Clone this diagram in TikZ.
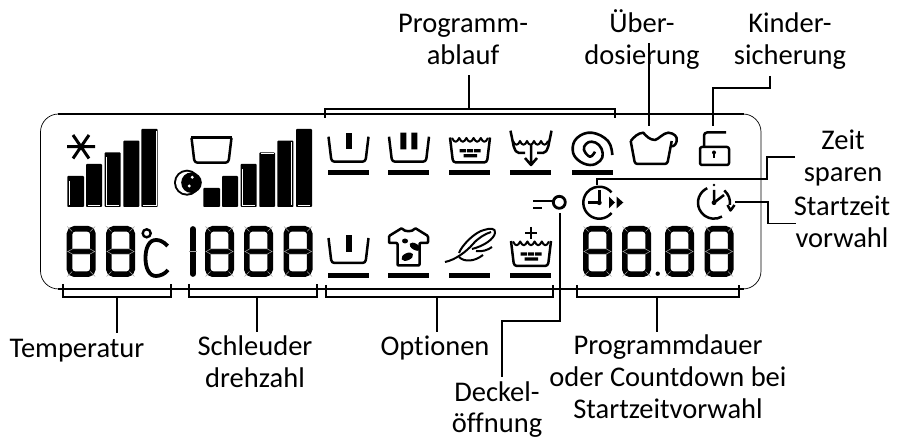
\documentclass[tikz,border=0pt]{standalone}
\usepackage{fontspec}
\setmainfont{Carlito}[Ligatures=NoCommon]
\tikzset{
	lcdeight/.pic={
		\draw[line width=5.6,rounded corners=5] (2.8,2.8) rectangle (26.2,48.2);
		\draw[sep] (0.5,0.5) -- (5.5,5.5) (28.5,0.5) -- (23.5,5.5) (0.5,50.5) -- (5.5,45.5) (28.5,50.5) -- (23.5,45.5);
		\filldraw[fill=black,draw=gray!70,line width=.5] (1,25.5) -- (6,22.8) -- (23,22.8) -- (28,25.5) -- (23,28.2) -- (6,28.2) -- cycle;
	},
	washtub/.pic={
		\draw[icon,rounded corners=3] (-20,0) -- (-17,25) -- (17,25) -- (20,0);
	},
	waves/.pic={
		\draw[icon,line width=2] (-18,0) .. controls (-15.5,5) and (-13.3,5) .. (-10.8,0) .. controls (-8.3,5) and (-6.1,5) .. (-3.6,0) .. controls (-1.1,5) and (1.1,5) .. (3.6,0) .. controls (6.1,5) and (8.3,5) .. (10.8,0) .. controls (13.3,5) and (15.5,5) .. (18,0);
	},
	dashes/.pic={
		\fill (-10.5,-1.6) rectangle (-4,1.6) (-3,-1.6) rectangle (3,1.6) (4,-1.6) rectangle (10.5,1.6) (-6.5,3.5) rectangle (7,6.7);
	},
	mark/.pic={
		\fill (0,0) rectangle (41,5);
	},
}
\begin{document}
\begin{tikzpicture}[x=1pt,y=-1pt]
\tikzstyle{lead}= [line width=1.9]
\tikzstyle{icon}= [line width=2.5,line join=round]
\tikzstyle{sep}= [draw=gray!70,line width=.6]
\tikzstyle{spot}= [white,line width=.5]
\tikzstyle{lbl}= [font=\fontsize{28.5}{32}\selectfont,align=center,anchor=base,inner sep=0pt]
\useasboundingbox (0,0) rectangle (900,443);

% panel
\draw[line width=.7,rounded corners=18] (40.5,114) rectangle (761,289);
\draw[line width=1.9] (58,114) -- (744,114) (58,289) -- (744,289);

% labels
\path
	(463,65) node[lbl] (ablauf) {Programm-\\ablauf}
	(642,65) node[lbl] (dosierung) {Über-\\dosierung}
	(790,65) node[lbl] (sicherung) {Kinder-\\sicherung}
	(843,182) node[lbl] (sparen) {Zeit\\sparen}
	(842,248) node[lbl] (vorwahl) {Startzeit\\vorwahl}
	(77,358) node[lbl] (temperatur) {Temperatur}
	(255,388) node[lbl] (drehzahl) {Schleuder\\drehzahl}
	(435,356) node[lbl] (optionen) {Optionen}
	(497,433) node[lbl] (deckel) {Deckel-\\öffnung}
	(668,419) node[lbl] (dauer) {Programmdauer\\oder Countdown bei\\Startzeitvorwahl}
;

% leaders
\coordinate (ablaufL) at (325,118);
\coordinate (ablaufR) at (615,118);
\coordinate (ablaufM) at (469,109);
\coordinate (ablaufT) at (469,75);
\coordinate (ueberT) at (648.7,43);
\coordinate (ueberB) at (648.7,126);
\coordinate (kinderT) at (770,76);
\coordinate (kinderB) at (712.7,126);
\coordinate (sparenR) at (795,157);
\coordinate (sparenB) at (597,185);
\coordinate (startL) at (735,202);
\coordinate (startR) at (796,223.5);
\coordinate (tempL) at (63,284);
\coordinate (tempR) at (171,284);
\coordinate (tempM) at (117,297);
\coordinate (tempB) at (117,333);
\coordinate (schlL) at (189,284);
\coordinate (schlR) at (317,284);
\coordinate (schlM) at (257,297);
\coordinate (schlB) at (257,332);
\coordinate (optL) at (326,285);
\coordinate (optR) at (553,285);
\coordinate (optM) at (437,297);
\coordinate (optB) at (437,332);
\coordinate (dauerL) at (577,285);
\coordinate (dauerR) at (739,285);
\coordinate (dauerM) at (657,297);
\coordinate (dauerB) at (657,332);
\coordinate (deckelT) at (560,213);
\coordinate (deckelB) at (501.7,377);
\draw[lead] (ablaufL) |- (ablaufM) -| (ablaufR);
\draw[lead] (ablaufM) -- (ablaufT);
\draw[lead] (ueberT) -- (ueberB);
\draw[lead] (kinderT) |- (712.7,88) -- (kinderB);
\draw[lead] (sparenR) -| (767,179) -| (sparenB);
\draw[lead] (startL) -| (768,223.5) -- (startR);
\draw[lead] (tempL) |- (tempM) -| (tempR);
\draw[lead] (tempM) -- (tempB);
\draw[lead] (schlL) |- (schlM) -| (schlR);
\draw[lead] (schlM) -- (schlB);
\draw[lead] (optL) |- (optM) -| (optR);
\draw[lead] (optM) -- (optB);
\draw[lead] (dauerL) |- (dauerM) -| (dauerR);
\draw[lead] (dauerM) -- (dauerB);
\draw[lead] (deckelT) |- (501.7,320.7) -- (deckelB);

% frost and bars
\draw[line width=3] (67,146.7) -- (95,146.7) (73,135) -- (89,158.5) (89,135) -- (73,158.5);
\fill[rounded corners=.8]
	(67.3,176) rectangle (84,207) (86,164) rectangle (102,207) (104.7,152.5) rectangle (120.7,207)
	(123.3,140.7) rectangle (139.3,207) (141.3,129) rectangle (157.7,207)
	(203.3,188) rectangle (220,207) (222,176) rectangle (238,207) (240.7,164) rectangle (256.7,207)
	(259.3,152.5) rectangle (275,207) (277.3,140.7) rectangle (293.3,207) (296,129) rectangle (312,207);
\draw[spot] (69.5,181) -- (69.5,205) (88,205) -- (100,205) (106.5,157) -- (106.5,205) -- (119,205)
	(155.8,131) -- (155.8,205) -- (143,205) (242.5,169) -- (242.5,205) -- (255,205)
	(261,153.5) -- (274,153.5) (291.5,142) -- (291.5,205) (298,205) -- (310,205);

% tub and moon
\path (211.5,137.7) pic {washtub};
\draw[icon] (191,137.7) -- (232,137.7);
\fill (187,182.7) circle (13);
\fill[white] (187,182.7) circle (11);
\fill (191.5,182.7) circle (10.3);
\fill[white] (192.3,177.3) circle (1.6) (189.3,186) circle (1.6);

% digits
\path
	(66.7,226) pic {lcdeight}
	(106,226) pic {lcdeight}
	(205,226) pic {lcdeight}
	(244,226) pic {lcdeight}
	(283.5,226) pic {lcdeight}
	(583,226) pic {lcdeight}
	(622,226) pic {lcdeight}
	(665,226) pic {lcdeight}
	(704.5,226) pic {lcdeight}
;
\draw[line width=5.7,line cap=round] (192.8,229) -- (192.8,274);
\draw[sep] (189,251) -- (196.5,251);
\draw[line width=2.4] (146.7,233.3) circle (4);
\draw[line width=3.8] (167.7,246) .. controls (163,241) and (159,240) .. (156,240) .. controls (149,240) and (145.5,248) .. (145.5,258) .. controls (145.5,268) and (149,276) .. (156,276) .. controls (160,276) and (165,274) .. (168,270);
\fill (657.7,273.7) circle (2.2);

% programme row
\path
	(348.5,136.7) pic {washtub}
	(409,136.7) pic {washtub}
	(470,137.5) pic {washtub}
	(470,138) pic {waves}
	(470,150.7) pic {dashes}
	(328,170) pic {mark}
	(388.3,170) pic {mark}
	(449.3,170) pic {mark}
	(510,170) pic {mark}
	(571.7,170) pic {mark}
;
\fill (345.5,132.7) rectangle (351.5,149.3);
\fill (400.3,132.7) rectangle (406.3,149.3) (411.3,132.7) rectangle (417.3,149.3);
\draw[icon,rounded corners=2] (510.5,130.7) -- (514,148) -- (517,153) -- (525,153) (551.5,130.7) -- (548,148) -- (545,153) -- (537,153);
\draw[icon,line width=2] (513,141) .. controls (515,146) and (518,146) .. (520,141) .. controls (522,146) and (525,146) .. (527,141) .. controls (529,146) and (532,146) .. (534,141) .. controls (536,146) and (539,146) .. (541,141) .. controls (543,146) and (546,146) .. (548,141);
\draw[icon] (531,145) -- (531,164) (525,158) -- (531,165) -- (537,158);
\draw[icon,line width=2.6] plot[smooth,tension=.7] coordinates {(612.3,155) (608,141) (591.7,132.7) (577,138) (572.7,150) (578,160) (590,165) (600,161) (602.7,153.3) (599,145) (591.7,141.7) (586,144) (584,150) (590,156.7) (595,151.7)};

% overdosing and lock
\draw[icon] (630.7,141) .. controls (634,137) and (638,133) .. (643.3,132.7) .. controls (646,136) and (650,140) .. (655,140) .. controls (659,139) and (663,133) .. (668.3,132.7) .. controls (674,133) and (678,137) .. (676.7,141) .. controls (676,145) and (673,147) .. (671,146);
\draw[icon,rounded corners=2.5] (630.7,141) -- (635,164) -- (667.3,164) -- (671.7,141);
\draw[icon,rounded corners=2] (700,147) rectangle (729,165);
\draw[icon,rounded corners=3] (704,147) -- (704,132.5) -- (726,132.5);
\fill (714,152.5) circle (2);
\draw[line width=1.5] (714,153) -- (714,158);

% clocks
\draw[icon] (599.3,202.7) ++(40:16) arc[start angle=40,end angle=320,radius=16];
\draw[icon] (588,202.7) -- (599.3,202.7) -- (599.3,190);
\fill (599.3,202.7) circle (2.4);
\fill (609,196.7) -- (615,202.5) -- (609,208.3) -- cycle (616.7,196.7) -- (623.3,202.5) -- (616.7,208.3) -- cycle;
\draw[icon] (714,202.7) ++(245:16) arc[start angle=245,end angle=60,radius=16];
\draw[icon] (714,202.7) ++(310:16) arc[start angle=310,end angle=368,radius=16];
\draw[icon] (727.5,205) -- (730.5,210.5) -- (734.5,205);
\draw[icon] (724,195) -- (714,202.7) -- (714,190);
\fill (714,202.7) circle (2.4) (714,185) circle (1.3);

% key
\draw[line width=2.8] (559.3,202.3) circle (6);
\draw[line width=2.6] (533,201) -- (553,201);
\draw[line width=2.4] (533,208) -- (541.7,208);

% option row
\path
	(348.5,238) pic {washtub}
	(531,241) pic {washtub}
	(531,241.5) pic {waves}
	(531,254) pic {dashes}
	(328,272.7) pic {mark}
	(388.3,272.7) pic {mark}
	(449.3,272.7) pic {mark}
	(510,272.7) pic {mark}
;
\fill (345.5,235) rectangle (351.5,251.7);
\draw[icon] (525,233) -- (537,233) (531,227) -- (531,239);
\draw[icon,rounded corners=1] (402,228) .. controls (404,232) and (413,232) .. (415,228) -- (428,236) -- (428,243) -- (419.5,243) -- (419.5,265.5) -- (397.5,265.5) -- (397.5,243) -- (389,243) -- (389,236) -- cycle;
\fill (405,241) ellipse (3 and 2.5);
\fill[rotate around={-30:(415,246.7)}] (415,246.7) ellipse (6 and 3.2);
\fill[rotate around={25:(407.3,256.7)}] (407.3,256.7) ellipse (6.2 and 3.6);
\draw[icon,line width=2] (445,262) .. controls (455,260) and (466,252) .. (473,244) .. controls (478,238) and (485,234) .. (491,232);
\draw[icon,line width=2] (459,253) .. controls (462,245) and (475,232) .. (484,230) .. controls (490,228) and (496,228) .. (495,233) .. controls (494,239) and (484,246) .. (472,249);
\draw[icon,line width=2] (476,251) .. controls (482,252) and (488,250) .. (492,247) (459,257) .. controls (464,262) and (474,262) .. (483,255);
\end{tikzpicture}
\end{document}
